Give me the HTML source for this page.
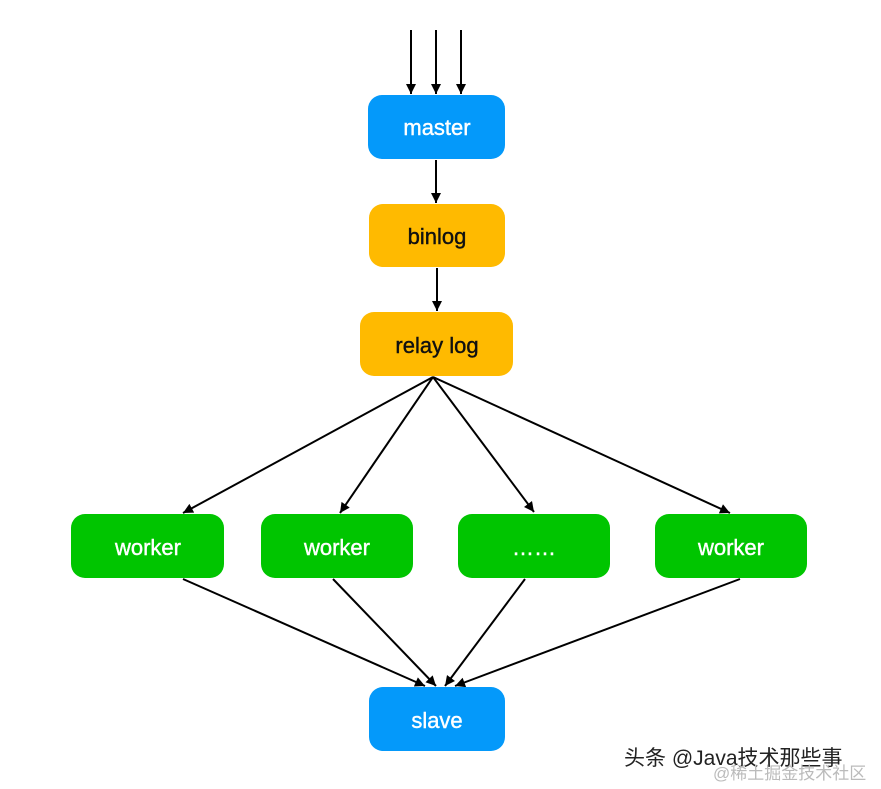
<!DOCTYPE html>
<html><head><meta charset="utf-8"><style>
body{margin:0;background:#fff;width:881px;height:789px;overflow:hidden}
svg{display:block}
text{font-family:"Liberation Sans","Noto Sans CJK SC",sans-serif}
</style></head><body>
<svg width="881" height="789" viewBox="0 0 881 789">
<defs><marker id="a" viewBox="0 0 10 10" refX="10" refY="5" markerWidth="11" markerHeight="10" markerUnits="userSpaceOnUse" orient="auto"><path d="M0,0L10,5L0,10z" fill="#000"/></marker></defs>
<g stroke="#000" stroke-width="2" fill="none" marker-end="url(#a)">
<line x1="411" y1="30" x2="411" y2="94"/>
<line x1="436" y1="30" x2="436" y2="94"/>
<line x1="461" y1="30" x2="461" y2="94"/>
<line x1="436" y1="160" x2="436" y2="203"/>
<line x1="437" y1="268" x2="437" y2="311"/>
<line x1="433" y1="377" x2="183" y2="513"/>
<line x1="433" y1="377" x2="340" y2="513"/>
<line x1="433" y1="377" x2="534" y2="512"/>
<line x1="433" y1="377" x2="730" y2="513"/>
<line x1="183" y1="579" x2="425" y2="686"/>
<line x1="333" y1="579" x2="436" y2="686"/>
<line x1="525" y1="579" x2="445" y2="686"/>
<line x1="740" y1="579" x2="455" y2="686"/>
</g>
<g font-size="22" text-anchor="middle" stroke-width="0.4">
<rect x="368" y="95" width="137" height="64" rx="14" fill="#0499fa"/><text x="437" y="135" fill="#fff" stroke="#fff">master</text>
<rect x="369" y="204" width="136" height="63" rx="14" fill="#ffba00"/><text x="437" y="244" fill="#111" stroke="#111">binlog</text>
<rect x="360" y="312" width="153" height="64" rx="14" fill="#ffba00"/><text x="437" y="353" fill="#111" stroke="#111">relay log</text>
<rect x="71" y="514" width="153" height="64" rx="14" fill="#00c500"/><text x="148" y="555" fill="#fff" stroke="#fff">worker</text>
<rect x="261" y="514" width="152" height="64" rx="14" fill="#00c500"/><text x="337" y="555" fill="#fff" stroke="#fff">worker</text>
<rect x="458" y="514" width="152" height="64" rx="14" fill="#00c500"/><text x="534" y="555" fill="#fff" stroke="#fff">……</text>
<rect x="655" y="514" width="152" height="64" rx="14" fill="#00c500"/><text x="731" y="555" fill="#fff" stroke="#fff">worker</text>
<rect x="369" y="687" width="136" height="64" rx="14" fill="#0499fa"/><text x="437" y="728" fill="#fff" stroke="#fff">slave</text>
</g>
<text x="624" y="765" font-size="21" fill="#222">头条 @Java技术那些事</text>
<text x="713" y="779" font-size="17" fill="#bbb">@稀土掘金技术社区</text>
</svg>
</body></html>
